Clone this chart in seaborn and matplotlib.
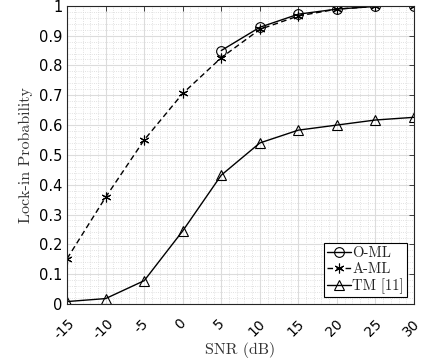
import numpy as np
import seaborn as sns
import matplotlib.pyplot as plt
import matplotlib.transforms as mtransforms
from matplotlib.ticker import MultipleLocator

# Data
snr = [-15, -10, -5, 0, 5, 10, 15, 20, 25, 30]
snr_oml = [5, 10, 15, 20, 25, 30]
o_ml = [0.85, 0.928, 0.972, 0.989, 0.998, 1.0]
a_ml = [0.152, 0.358, 0.550, 0.706, 0.826, 0.921, 0.966, 0.989, 0.998, 1.0]
tm = [0.008, 0.018, 0.078, 0.245, 0.432, 0.540, 0.583, 0.600, 0.617, 0.626]
y_ticks = [0, 0.1, 0.2, 0.3, 0.4, 0.5, 0.6, 0.7, 0.8, 0.9, 1]
y_labels = ['0', '0.1', '0.2', '0.3', '0.4', '0.5', '0.6', '0.7', '0.8', '0.9', '1']

sns.set_style("white")
plt.rcParams['font.family'] = ['DejaVu Sans']
plt.rcParams['axes.unicode_minus'] = False

fig = plt.figure(figsize=(4.22, 3.64), dpi=100)
ax = fig.add_axes([0.159, 0.165, 0.822, 0.819])

star = (6, 2, 0)
sns.lineplot(x=snr_oml, y=o_ml, ax=ax, color='black', lw=1.0, marker='o',
             markersize=7, markerfacecolor='none', markeredgecolor='black',
             markeredgewidth=0.8, label='O-ML')
sns.lineplot(x=snr, y=a_ml, ax=ax, color='black', lw=1.0, marker=star,
             markersize=7, markeredgecolor='black', markeredgewidth=0.8,
             label='A-ML', linestyle='--')
sns.lineplot(x=snr, y=tm, ax=ax, color='black', lw=1.0, marker='^',
             markersize=7, markerfacecolor='none', markeredgecolor='black',
             markeredgewidth=0.8, label='TM [11]')
ax.lines[1].set_dashes([4, 2.5])

ax.set_xlim(-15, 30)
ax.set_ylim(0, 1)
ax.set_xticks(snr)
ax.set_xticklabels([str(v) for v in snr], rotation=45, ha='center')
ax.xaxis.set_minor_locator(MultipleLocator(1))
ax.set_yticks(y_ticks)
ax.set_yticklabels(y_labels)
ax.yaxis.set_minor_locator(MultipleLocator(0.02))

ax.grid(which='major', color='#dcdcdc', lw=0.8, ls='-')
ax.grid(which='minor', color='#d8d8d8', lw=0.6, ls=':')
ax.set_axisbelow(True)
ax.tick_params(which='both', direction='in', top=True, right=True, labelsize=10.5,
               colors='#262626', labelcolor='black')
ax.tick_params(axis='x', labelsize=10, pad=9)
ax.tick_params(which='major', length=3.5, width=0.6)
ax.tick_params(which='minor', length=0)
for s in ax.spines.values():
    s.set_color('#262626')
    s.set_linewidth(0.8)

ax.set_xlabel('SNR (dB)', family='cmr10', fontsize=11.5, color='#333333', labelpad=0)
ax.set_ylabel('Lock-in Probability', family='cmr10', fontsize=11.5, color='#333333')

leg = ax.legend(loc='lower right', frameon=True, fancybox=False, handlelength=1.6,
                handletextpad=0.1, borderpad=0.25, labelspacing=0.15,
                borderaxespad=0.45, prop={'family': 'cmr10', 'size': 10.5})
leg.get_frame().set_edgecolor('black')
leg.get_frame().set_linewidth(0.8)
leg.get_frame().set_alpha(1)

# nudge the rotated tick labels a little to the left, like the original
fig.canvas.draw()
shift = mtransforms.ScaledTranslation(-2.5 / 100, 0, fig.dpi_scale_trans)
for tick in ax.xaxis.get_major_ticks():
    tick.label1.set_transform(tick.label1.get_transform() + shift)

fig.savefig('out.png', dpi=100)
